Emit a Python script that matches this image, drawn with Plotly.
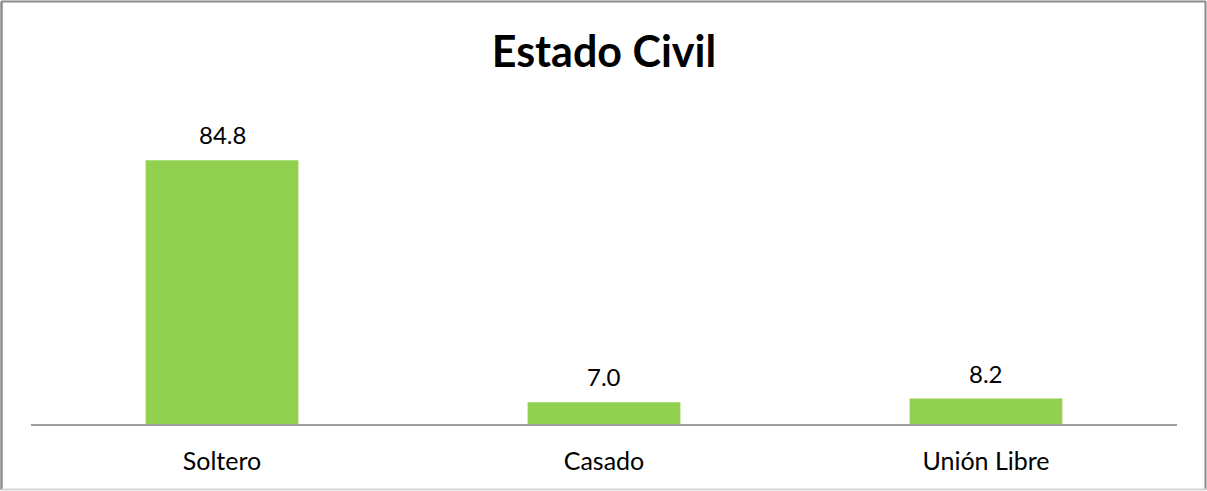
import plotly.graph_objects as go

categories = ["Soltero", "Casado", "Unión Libre"]
values = [84.8, 7.0, 8.2]
value_labels = ["84.8", "7.0", "8.2"]

W, H = 1207, 491
L, R, T, B = 31, 30, 113, 67
pw, ph = W - L - R, H - T - B
FONT = "Lato, Open Sans, sans-serif"

def px_x(p):
    return (p - L) / pw

def px_y(p):
    return 1 - (p - T) / ph

fig = go.Figure(
    go.Bar(
        x=categories,
        y=values,
        marker=dict(color="#92D050", line=dict(width=0)),
        width=0.4,
        hoverinfo="skip",
    )
)

for c, v, t in zip(categories, values, value_labels):
    fig.add_annotation(
        x=c, y=v, text=t, showarrow=False, yanchor="bottom", yshift=9,
        font=dict(family=FONT, size=24, color="#000000"),
    )

# outer chart frame: darker left/top/right edges, lighter bottom edge
frame = [
    ((1.5, 1.5), (1.5, 490), "#8c8c8c", 2.5),
    ((1, 1.5), (1206, 1.5), "#8c8c8c", 2),
    ((1205.5, 1), (1205.5, 490), "#8c8c8c", 2),
    ((1, 489.5), (1206, 489.5), "#d4d4d4", 2),
]
for (xa, ya), (xb, yb), col, lw in frame:
    fig.add_shape(type="line", xref="paper", yref="paper",
                  x0=px_x(xa), y0=px_y(ya), x1=px_x(xb), y1=px_y(yb),
                  line=dict(color=col, width=lw), layer="below")

fig.update_layout(
    width=W, height=H,
    margin=dict(l=L, r=R, t=T, b=B),
    paper_bgcolor="white", plot_bgcolor="white",
    title=dict(text="<b>Estado Civil</b>", x=0.5, xanchor="center", xref="paper",
               y=1 - 52 / H, yanchor="middle",
               font=dict(family=FONT, size=43, color="#000000")),
    showlegend=False,
    bargap=0.6,
    xaxis=dict(showline=True, linecolor="#a0a0a0", linewidth=2, ticks="",
               ticklabelstandoff=14,
               tickfont=dict(family=FONT, size=25, color="#000000"),
               showgrid=False, zeroline=False),
    yaxis=dict(range=[0, 100], visible=False, showgrid=False, zeroline=False),
)

fig.write_html("out.html")
